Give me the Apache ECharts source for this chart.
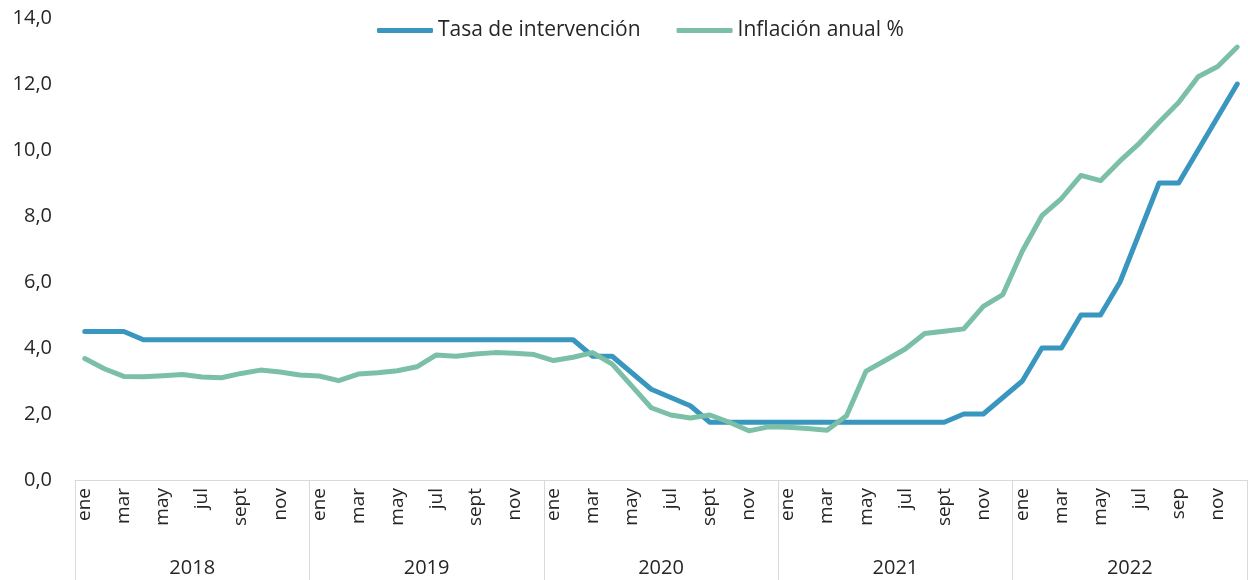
<!DOCTYPE html>
<html>
<head>
<meta charset="utf-8">
<script src="https://cdn.jsdelivr.net/npm/echarts@6/dist/echarts.min.js"></script>
<style>
  html, body { margin: 0; padding: 0; background: #fff; }
  #chart { width: 1248px; height: 580px; }
</style>
</head>
<body>
<div id="chart"></div>
<script>
const years = ['2018', '2019', '2020', '2021', '2022']
const monthNames = ['ene', 'feb', 'mar', 'abr', 'may', 'jun', 'jul', 'ago', 'sept', 'oct', 'nov', 'dic']
const monthNames2022 = ['ene', 'feb', 'mar', 'abr', 'may', 'jun', 'jul', 'ago', 'sep', 'oct', 'nov', 'dic']

// tasa de intervención, mensual 2018-2022
const tasa = [
  4.5, 4.5, 4.5, 4.25, 4.25, 4.25, 4.25, 4.25, 4.25, 4.25, 4.25, 4.25,
  4.25, 4.25, 4.25, 4.25, 4.25, 4.25, 4.25, 4.25, 4.25, 4.25, 4.25, 4.25,
  4.25, 4.25, 3.75, 3.75, 3.25, 2.75, 2.5, 2.25, 1.75, 1.75, 1.75, 1.75,
  1.75, 1.75, 1.75, 1.75, 1.75, 1.75, 1.75, 1.75, 1.75, 2.0, 2.0, 2.5,
  3.0, 4.0, 4.0, 5.0, 5.0, 6.0, 7.5, 9.0, 9.0, 10.0, 11.0, 12.0
]

// inflación anual %
const inflacion = [
  3.68, 3.37, 3.14, 3.13, 3.16, 3.20, 3.12, 3.10, 3.23, 3.33, 3.27, 3.18,
  3.15, 3.01, 3.21, 3.25, 3.31, 3.43, 3.79, 3.75, 3.82, 3.86, 3.84, 3.80,
  3.62, 3.72, 3.86, 3.51, 2.85, 2.19, 1.97, 1.88, 1.97, 1.75, 1.49, 1.61,
  1.60, 1.56, 1.51, 1.95, 3.30, 3.63, 3.97, 4.44, 4.51, 4.58, 5.26, 5.62,
  6.94, 8.01, 8.53, 9.23, 9.07, 9.67, 10.21, 10.84, 11.44, 12.22, 12.53, 13.12
]

const categories = []
years.forEach((y) => {
  const names = y === '2022' ? monthNames2022 : monthNames
  names.forEach((m) => categories.push(y + '|' + m))
})

const font = '"Open Sans", "Noto Sans", sans-serif'
const textColor = '#262626'
const frameColor = '#d9d9d9'

const chart = echarts.init(document.getElementById('chart'))

chart.setOption({
  backgroundColor: '#fff',
  animation: false,
  textStyle: { fontFamily: font },
  legend: {
    top: 15,
    left: 372,
    itemWidth: 56,
    itemHeight: 5,
    itemGap: 36,
    icon: 'roundRect',
    textStyle: { fontSize: 21, color: textColor, fontFamily: font },
    data: ['Tasa de intervención', 'Inflación anual %']
  },
  grid: { left: 75, right: 1, top: 18, bottom: 100, containLabel: false },
  xAxis: [
    {
      type: 'category',
      data: categories,
      position: 'bottom',
      axisLine: { show: true, lineStyle: { color: frameColor, width: 1 } },
      axisTick: { show: false },
      axisLabel: {
        interval: 1,
        rotate: 90,
        margin: 8,
        fontSize: 19,
        color: textColor,
        fontFamily: font,
        formatter: (v) => v.split('|')[1]
      },
      splitLine: { show: false }
    },
    {
      type: 'category',
      data: years,
      position: 'bottom',
      axisLine: { show: false },
      axisTick: { show: true, interval: 0, length: 100, lineStyle: { color: frameColor, width: 1 } },
      axisLabel: { margin: 78, fontSize: 20, color: textColor, fontFamily: font },
      splitLine: { show: false }
    }
  ],
  yAxis: {
    type: 'value',
    min: 0,
    max: 14,
    interval: 2,
    axisLine: { show: false },
    axisTick: { show: false },
    splitLine: { show: false },
    axisLabel: {
      margin: 23,
      fontSize: 20,
      color: textColor,
      fontFamily: font,
      formatter: (v) => v.toFixed(1).replace('.', ',')
    }
  },
  series: [
    {
      name: 'Tasa de intervención',
      type: 'line',
      data: tasa,
      showSymbol: false,
      symbol: 'none',
      color: '#3996bf',
      lineStyle: { width: 5, color: '#3996bf', cap: 'round', join: 'round' }
    },
    {
      name: 'Inflación anual %',
      type: 'line',
      data: inflacion,
      showSymbol: false,
      symbol: 'none',
      color: '#7bc0a6',
      lineStyle: { width: 5, color: '#7bc0a6', cap: 'round', join: 'round' }
    }
  ]
})
</script>
</body>
</html>
